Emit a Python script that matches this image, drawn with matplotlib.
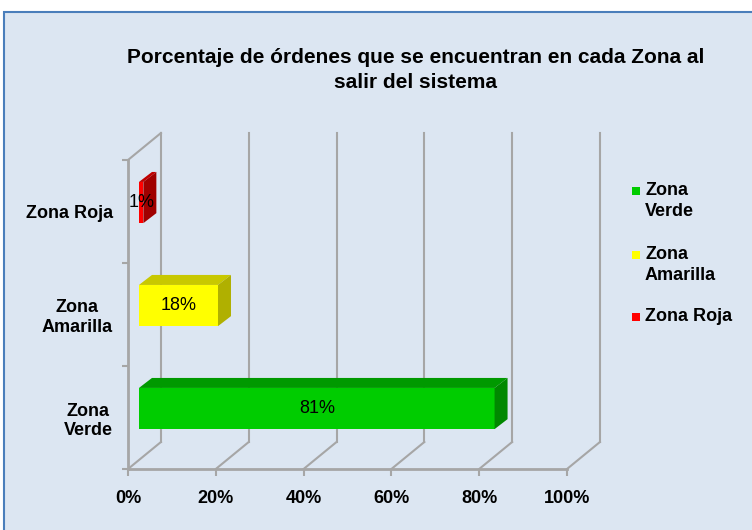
import matplotlib
matplotlib.use('Agg')
import matplotlib.pyplot as plt
from matplotlib.patches import Rectangle, Polygon

plt.rcParams['font.family'] = ['Liberation Sans', 'DejaVu Sans']

# datos
zonas = ['Zona\nVerde', 'Zona\nAmarilla', 'Zona Roja']
porcentajes = [81, 18, 1]
etiquetas = ['81%', '18%', '1%']
leyenda = ['Zona\nVerde', 'Zona\nAmarilla', 'Zona Roja']
col_frente = ['#00CC00', '#FFFF00', '#FF0000']
col_arriba = ['#009900', '#C8C800', '#C00000']
col_lado = ['#008800', '#B0B000', '#A00000']
ticks_x = [0, 20, 40, 60, 80, 100]

W, H = 752, 530
BG = '#DCE6F2'
GRIS = '#A6A6A6'

fig = plt.figure(figsize=(W / 100, H / 100), dpi=100)
fig.patch.set_facecolor('white')
fig.add_artist(Rectangle((4 / W, -0.05), 1.0, (H - 12) / H + 0.05,
                         transform=fig.transFigure, facecolor=BG,
                         edgecolor='#4A7EBB', lw=1.5, zorder=-5))


def px(x, y):
    return x / W, 1 - y / H


ax = fig.add_axes([128 / W, (H - 469) / H, 439 / W, 309 / H])
ax.set_xlim(0, 100)
ax.set_ylim(0, 3)
ax.patch.set_alpha(0)

# profundidad de las paredes y de las barras (en unidades de datos)
wdx, wdy = 7.5, 0.262
sdx, sdy = 2.5, 0.087
bdx, bdy = 2.96, 0.097
alto = 0.4

kw = dict(color=GRIS, lw=1.5, clip_on=False, zorder=1)
for x in ticks_x:
    ax.plot([x + wdx, x + wdx], [wdy, 3 + wdy], **kw)
    ax.plot([x, x + wdx], [0, wdy], **kw)
ax.plot([0, wdx], [3, 3 + wdy], **kw)

for s in ['top', 'right']:
    ax.spines[s].set_visible(False)
for s in ['left', 'bottom']:
    ax.spines[s].set_color(GRIS)
    ax.spines[s].set_linewidth(2)

ax.set_xticks(ticks_x)
ax.set_xticklabels([f'{t}%' for t in ticks_x], fontsize=13, fontweight='bold')
ax.tick_params(axis='x', length=5, width=1.5, color=GRIS, pad=10)
ax.set_yticks([0, 1, 2, 3])
ax.set_yticklabels([])
ax.tick_params(axis='y', length=4, width=1.5, color=GRIS)
ax.set_yticks([0.5, 1.5, 2.5], minor=True)
ax.set_yticklabels(zonas, minor=True, fontsize=13, fontweight='bold',
                   multialignment='center')
ax.tick_params(axis='y', which='minor', length=0, pad=11)

# barras 3D: cara frontal, superior y lateral
for i, v in enumerate(porcentajes):
    yc = i + 0.5 + sdy
    y0, y1 = yc - alto / 2, yc + alto / 2
    ax.barh(yc, v, height=alto, left=sdx, color=col_frente[i], lw=0,
            zorder=3, clip_on=False)
    ax.add_patch(Polygon([(sdx, y1), (sdx + v, y1), (sdx + v + bdx, y1 + bdy),
                          (sdx + bdx, y1 + bdy)], closed=True,
                         facecolor=col_arriba[i], lw=0, zorder=3, clip_on=False))
    ax.add_patch(Polygon([(sdx + v, y0), (sdx + v + bdx, y0 + bdy),
                          (sdx + v + bdx, y1 + bdy), (sdx + v, y1)], closed=True,
                         facecolor=col_lado[i], lw=0, zorder=3, clip_on=False))
    ax.text(sdx + v / 2, yc, etiquetas[i], ha='center', va='center',
            fontsize=13, zorder=4)

fig.text(*px(416, 70), 'Porcentaje de órdenes que se encuentran en cada Zona al\nsalir del sistema',
         ha='center', va='center', fontsize=15, fontweight='bold', linespacing=1.4)

# leyenda
ley_y = [191, 255, 317]
for i, txt in enumerate(leyenda):
    fig.add_artist(Rectangle(px(632, ley_y[i] + 4), 8 / W, 8 / H,
                             transform=fig.transFigure, facecolor=col_frente[i], lw=0))
    fig.text(*px(645, ley_y[i] - 9), txt, ha='left', va='top', fontsize=13,
             fontweight='bold', linespacing=1.3)

fig.savefig('out.png', dpi=100)
